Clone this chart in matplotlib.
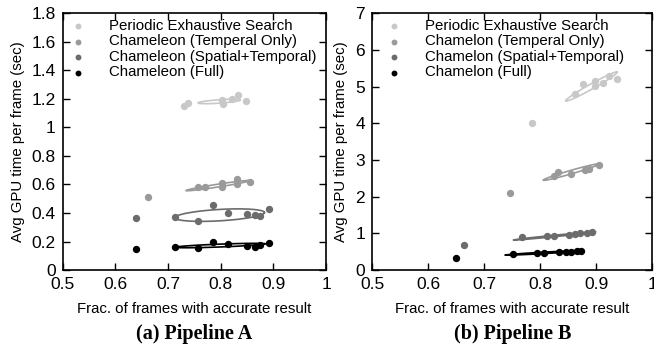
import numpy as np
import matplotlib
matplotlib.use("Agg")
import matplotlib.pyplot as plt

plt.rcParams['font.family'] = ['Liberation Sans', 'DejaVu Sans']

# ---------------- Data: Pipeline A ----------------
labels_a = ["Periodic Exhaustive Search", "Chameleon (Temperal Only)",
            "Chameleon (Spatial+Temporal)", "Chameleon (Full)"]
pes_a_x = [0.731, 0.738, 0.802, 0.805, 0.821, 0.833, 0.848]
pes_a_y = [1.151, 1.167, 1.190, 1.162, 1.197, 1.225, 1.186]
tmp_a_x = [0.662, 0.757, 0.770, 0.802, 0.802, 0.831, 0.831, 0.855]
tmp_a_y = [0.513, 0.579, 0.583, 0.607, 0.579, 0.635, 0.600, 0.616]
spt_a_x = [0.640, 0.713, 0.757, 0.786, 0.813, 0.850, 0.866, 0.874, 0.892]
spt_a_y = [0.362, 0.369, 0.345, 0.455, 0.397, 0.390, 0.385, 0.380, 0.427]
full_a_x = [0.640, 0.713, 0.757, 0.786, 0.813, 0.850, 0.866, 0.874, 0.892]
full_a_y = [0.145, 0.163, 0.152, 0.198, 0.180, 0.170, 0.163, 0.175, 0.191]
# ellipses: (center x, center y, semi-axis dx, semi-axis dy, vertical half-thickness)
ell_a = [(0.797, 1.181, 0.040, 0.010, 0.012),
         (0.795, 0.592, 0.061, 0.035, 0.010),
         (0.798, 0.385, 0.085, 0.018, 0.040),
         (0.799, 0.172, 0.085, 0.012, 0.010)]

# ---------------- Data: Pipeline B ----------------
labels_b = ["Periodic Exhaustive Search", "Chamelon (Temperal Only)",
            "Chamelon (Spatial+Temporal)", "Chamelon (Full)"]
pes_b_x = [0.785, 0.8625, 0.8755, 0.897, 0.897, 0.912, 0.923, 0.937]
pes_b_y = [4.00, 4.79, 5.08, 5.16, 5.02, 5.10, 5.28, 5.20]
tmp_b_x = [0.746, 0.825, 0.832, 0.855, 0.880, 0.886, 0.905]
tmp_b_y = [2.09, 2.55, 2.66, 2.61, 2.73, 2.75, 2.86]
spt_b_x = [0.663, 0.767, 0.811, 0.824, 0.851, 0.8625, 0.871, 0.884, 0.892]
spt_b_y = [0.68, 0.89, 0.935, 0.935, 0.95, 0.97, 1.00, 1.02, 1.03]
full_b_x = [0.650, 0.751, 0.794, 0.806, 0.833, 0.845, 0.854, 0.866, 0.873]
full_b_y = [0.32, 0.44, 0.47, 0.47, 0.50, 0.48, 0.50, 0.52, 0.52]
ell_b = [(0.891, 5.00, 0.046, 0.39, 0.08),
         (0.855, 2.67, 0.050, 0.22, 0.05),
         (0.825, 0.93, 0.073, 0.11, 0.02),
         (0.807, 0.47, 0.070, 0.06, 0.02)]

colors = ["#c8c8c8", "#9a9a9a", "#6c6c6c", "#000000"]

fig = plt.figure(figsize=(6.54, 3.54), dpi=100)
ax1 = fig.add_axes([0.0959, 0.237, 0.4026, 0.726])
ax2 = fig.add_axes([0.569, 0.237, 0.4287, 0.726])

t = np.linspace(0, 2 * np.pi, 200)


def draw(ax, series, ells, labels):
    for (xs, ys), e, c, lab in zip(series, ells, colors, labels):
        cx, cy, ax_, ay_, b = e
        ex = cx + ax_ * np.cos(t)
        ey = cy + ay_ * np.cos(t) + b * np.sin(t)
        ax.plot(ex, ey, color=c, lw=1.2, zorder=2)
        ax.scatter(xs, ys, s=28, color=c, zorder=3, label=lab, linewidths=0)


draw(ax1, [(pes_a_x, pes_a_y), (tmp_a_x, tmp_a_y), (spt_a_x, spt_a_y), (full_a_x, full_a_y)],
     ell_a, labels_a)
draw(ax2, [(pes_b_x, pes_b_y), (tmp_b_x, tmp_b_y), (spt_b_x, spt_b_y), (full_b_x, full_b_y)],
     ell_b, labels_b)

ax1.set_xlim(0.5, 1.0)
ax1.set_ylim(0, 1.8)
ax1.set_xticks([0.5, 0.6, 0.7, 0.8, 0.9, 1.0])
ax1.set_xticklabels(["0.5", "0.6", "0.7", "0.8", "0.9", "1"])
ax1.set_yticks([0, 0.2, 0.4, 0.6, 0.8, 1.0, 1.2, 1.4, 1.6, 1.8])
ax1.set_yticklabels(["0", "0.2", "0.4", "0.6", "0.8", "1", "1.2", "1.4", "1.6", "1.8"])

ax2.set_xlim(0.5, 1.0)
ax2.set_ylim(0, 7)
ax2.set_xticks([0.5, 0.6, 0.7, 0.8, 0.9, 1.0])
ax2.set_xticklabels(["0.5", "0.6", "0.7", "0.8", "0.9", "1"])
ax2.set_yticks(range(0, 8))

for ax, title, anchor in [(ax1, "(a) Pipeline A", (-0.025, 1.018)),
                          (ax2, "(b) Pipeline B", (0.0, 1.018))]:
    ax.tick_params(direction='in', top=True, right=True, labelsize=12.5, length=5, width=1, pad=5)
    for s in ax.spines.values():
        s.set_linewidth(1.2)
    ax.set_xlabel("Frac. of frames with accurate result", fontsize=10.8, labelpad=7)
    ax.set_ylabel("Avg GPU time per frame (sec)", fontsize=10.8, labelpad=5)
    ax.legend(loc='upper left', frameon=False, fontsize=10.8, handletextpad=1.3,
              labelspacing=0.1, borderaxespad=0.3, markerscale=0.8,
              handlelength=1.5, bbox_to_anchor=anchor)
    ax.text(0.5, -0.25, title, transform=ax.transAxes, ha='center', va='center',
            fontsize=14.5, fontweight='bold', family='Liberation Serif')

fig.savefig("out.png", dpi=100)
